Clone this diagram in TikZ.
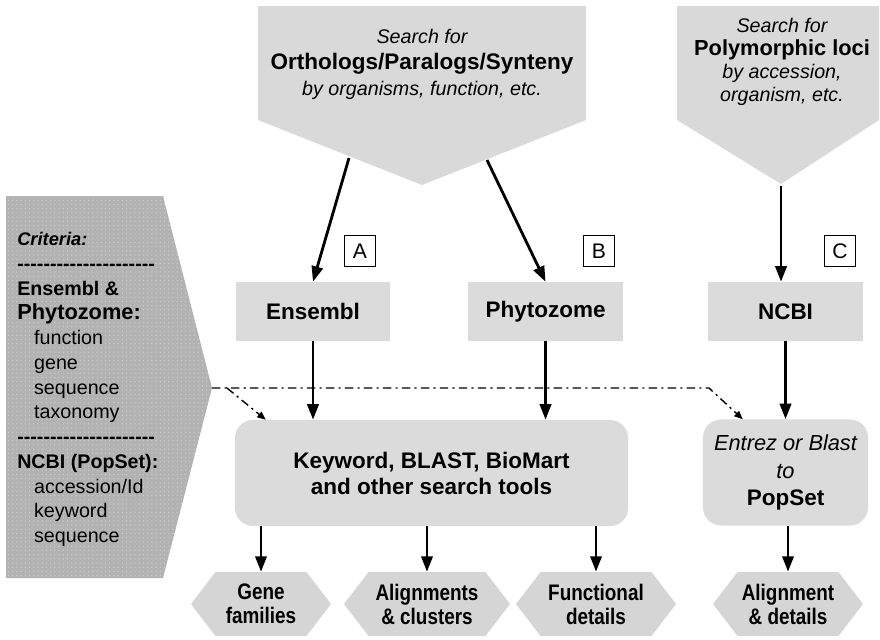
\documentclass[tikz,border=0pt]{standalone}
\usepackage{fontspec}
\setmainfont{Liberation Sans}
\newfontfamily\narrowfont[FakeStretch=0.84]{Liberation Sans}
\usetikzlibrary{positioning, shapes.symbols, arrows.meta, patterns}

\definecolor{headgray}{HTML}{D9D9D9}
\definecolor{boxgray}{HTML}{DBDBDB}
\definecolor{hexgray}{HTML}{D5D5D5}
\definecolor{critgray}{HTML}{B2B2B2}
\definecolor{critdots}{HTML}{CDCDCD}

% row of hyphens, kept apart so they do not turn into dashes
\newcommand\critrule{\foreach\k in {1,...,21}{\mbox{-}}}

\tikzset{
  box/.style={fill=boxgray, minimum width=3.85cm, minimum height=1.475cm,
    font=\fontsize{16}{19}\selectfont\bfseries},
  toolbox/.style={fill=boxgray, rounded corners=0.45cm, minimum height=2.65cm, align=center},
  hexa/.style={shape=signal, signal to=west and east, signal pointer angle=105,
    fill=hexgray, minimum height=1.6cm, inner sep=1pt, align=center,
    font=\fontsize{16}{17}\selectfont\narrowfont\bfseries},
  tag/.style={draw, line width=1pt, minimum size=0.775cm, inner sep=0pt, fill=white,
    font=\fontsize{15}{15}\selectfont},
  flow/.style={line width=2pt, -{Triangle[length=11pt,width=8pt]}},
  linkdash/.style={line width=1pt, dash pattern=on 6pt off 3pt on 1.5pt off 3pt,
    -{Triangle[length=6pt,width=5pt]}}
}

\begin{document}
\begin{tikzpicture}[x=0.025cm, y=-0.025cm]
  \useasboundingbox (0,0) rectangle (880,639);

  % search headers
  \fill[headgray] (258,6) -- (586,6) -- (586,120) -- (422,185) -- (258,120) -- cycle;
  \fill[headgray] (677,6) -- (879,6) -- (879,120) -- (781,184) -- (677,120) -- cycle;
  \node[align=center, font=\fontsize{14}{18.5}\selectfont\itshape] (orthoTxt) at (422,64)
    {Search for\\
     {\fontsize{16}{18.5}\selectfont\upshape\bfseries Orthologs/Paralogs/Synteny}\\
     by organisms, function, etc.};
  \node[align=center, font=\fontsize{14}{16.4}\selectfont\itshape] (polyTxt) at (782,62)
    {Search for\\
     {\fontsize{15.5}{16.4}\selectfont\upshape\bfseries Polymorphic loci}\\
     by accession,\\ organism, etc.};
  \coordinate (orthoA) at (349,158);
  \coordinate (orthoB) at (487,160);
  \coordinate (polyC) at (781,186);

  % criteria panel
  \fill[critgray, postaction={pattern=dots, pattern color=critdots}]
    (6,196) -- (163,196) -- (212,388) -- (163,578) -- (6,578) -- cycle;
  \coordinate (critTip) at (212,388);
  \node[anchor=north west, inner sep=0pt, align=left,
    font=\fontsize{14}{17.6}\selectfont] (critTxt) at (17,232)
    {{\bfseries\itshape\fontsize{13}{17.6}\selectfont Criteria:}\\
     {\bfseries\critrule}\\
     {\bfseries Ensembl \&}\\
     {\bfseries\fontsize{15.5}{17.6}\selectfont Phytozome:}\\
     \hspace*{12pt}function\\
     \hspace*{12pt}gene\\
     \hspace*{12pt}sequence\\
     \hspace*{12pt}taxonomy\\
     {\bfseries\critrule}\\
     {\bfseries NCBI (PopSet):}\\
     \hspace*{12pt}accession/Id\\
     \hspace*{12pt}keyword\\
     \hspace*{12pt}sequence};

  % databases
  \node[box] (ens) at (313,311.5) {Ensembl};
  \node[box] (phy) at (545.5,311.5) {Phytozome};
  \node[box] (ncbi) at (785.5,311.5) {NCBI};
  \node[tag] (tagA) at (360,251) {A};
  \node[tag] (tagB) at (599,251) {B};
  \node[tag] (tagC) at (840,251) {C};

  % search tools
  \node[toolbox, minimum width=9.825cm,
    font=\fontsize{16}{18.5}\selectfont\bfseries] (tools) at (431.5,473)
    {Keyword, BLAST, BioMart\\and other search tools};
  \node[toolbox, minimum width=4.125cm,
    font=\fontsize{15.5}{19.5}\selectfont\itshape] (popset) at (785.5,472.5)
    {Entrez or Blast\\ to\\
     {\upshape\bfseries\fontsize{16}{19.5}\selectfont PopSet}};

  % results
  \node[hexa, minimum width=3.5cm] (gene) at (261,604) {Gene\\families};
  \node[hexa, minimum width=4.15cm] (align) at (427,604) {Alignments\\\& clusters};
  \node[hexa, minimum width=4cm] (func) at (596,604) {Functional\\details};
  \node[hexa, minimum width=3.75cm] (alidet) at (788,604) {Alignment\\\& details};

  % arrows
  \draw[flow] (orthoA) -- (ens.north);
  \draw[flow] (orthoB) -- (phy.north);
  \draw[flow] (polyC) -- (polyC |- ncbi.north);
  \draw[flow] (ens.south) -- (ens.south |- tools.north);
  \draw[flow] (phy.south) -- (phy.south |- tools.north);
  \draw[flow] (ncbi.south) -- (ncbi.south |- popset.north);
  \foreach \res in {gene, align, func}
    \draw[flow] (tools.south -| \res.north) -- (\res.north);
  \draw[flow] (popset.south -| alidet.north) -- (alidet.north);

  % criteria links
  \coordinate (fork) at (227,388);
  \coordinate (bend) at (709,388);
  \draw[linkdash] (critTip) -- (bend) -- ([xshift=1cm]popset.north west);
  \draw[linkdash] (fork) -- ([xshift=0.775cm]tools.north west);
\end{tikzpicture}
\end{document}
